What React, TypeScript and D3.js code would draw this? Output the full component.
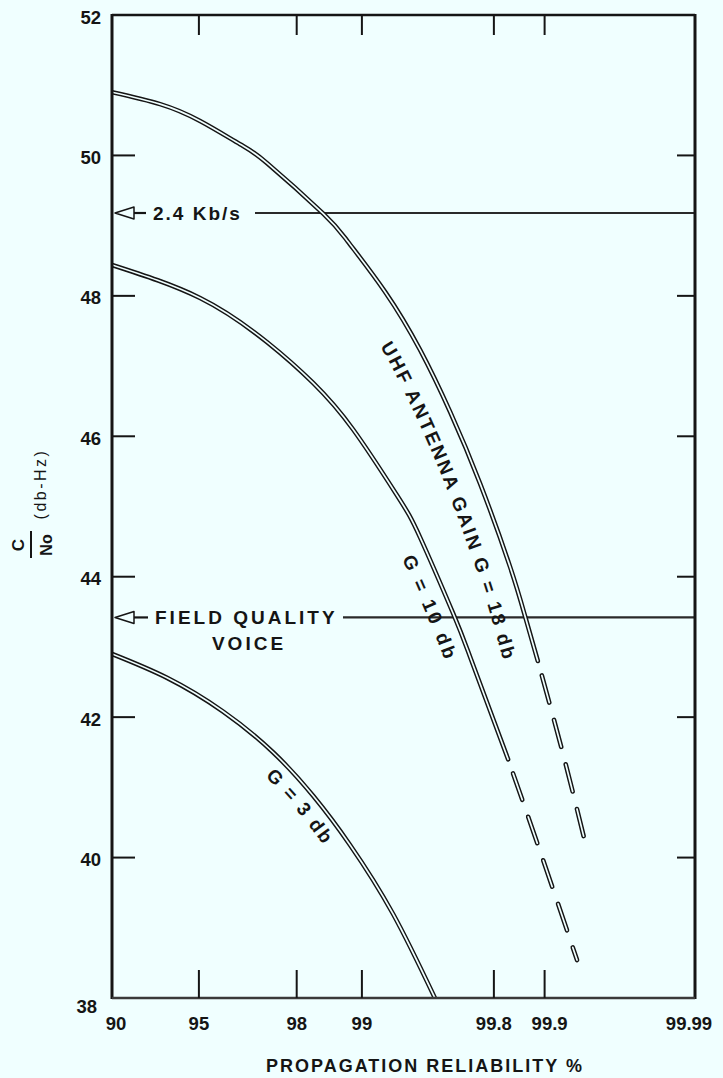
import React from "react";
import * as d3 from "d3";

// ---------- data ----------
const reliabilityTicks = [90, 95, 98, 99, 99.8, 99.9, 99.99];
const reliabilityTickLabels = ["90", "95", "98", "99", "99.8", "99.9", "99.99"];
const cnoTicks = [38, 40, 42, 44, 46, 48, 50, 52];
const cnoTickLabels = ["38", "40", "42", "44", "46", "48", "50", "52"];

// G = 18 db (UHF antenna gain)
const g18Solid: [number, number][] = [
  [90, 50.9], [93.09, 50.73], [95.05, 50.49], [96.54, 50.16], [97.32, 49.89],
  [98.48, 49.17], [98.835, 48.77], [99.23, 48.06], [99.491, 47.23], [99.648, 46.35],
  [99.76, 45.33], [99.839, 44.14], [99.869, 43.43], [99.89, 42.8],
];
const g18Dashed: [number, number][] = [[99.89, 42.8], [99.923, 41.48], [99.9449, 40.17]];

// G = 10 db
const g10Solid: [number, number][] = [
  [90, 48.44], [95.05, 47.97], [97.32, 47.34], [98.31, 46.76], [98.896, 46.1],
  [99.33, 45.16], [99.491, 44.56], [99.661, 43.48], [99.727, 42.86], [99.8346, 41.4],
];
const g10Dashed: [number, number][] = [[99.8346, 41.4], [99.8963, 40.01], [99.9372, 38.54]];

// G = 3 db
const g3Solid: [number, number][] = [
  [90, 42.9], [93.47, 42.56], [95.96, 42.08], [97.47, 41.5], [98.31, 40.88],
  [98.86, 40.18], [99.298, 39.2], [99.575, 38.0],
];

// reference levels
const refLevels = [49.18, 43.42];
const refLabels = ["2.4 Kb/s", "FIELD QUALITY"];
const refSubLabels = ["", "VOICE"];

const curveLabels = ["UHF ANTENNA GAIN G = 18 db", "G = 10 db", "G = 3 db"];
const curveLabelStart = [47.51, 44.41, 41.38]; // C/No value on curve where label starts

// ---------- helpers ----------
function probit(p: number): number {
  const a = [-3.969683028665376e1, 2.209460984245205e2, -2.759285104469687e2, 1.38357751867269e2, -3.066479806614716e1, 2.506628277459239];
  const b = [-5.447609879822406e1, 1.615858368580409e2, -1.556989798598866e2, 6.680131188771972e1, -1.328068155288572e1];
  const c = [-7.784894002430293e-3, -3.223964580411365e-1, -2.400758277161838, -2.549732539343734, 4.374664141464968, 2.938163982698783];
  const d = [7.784695709041462e-3, 3.224671290700398e-1, 2.445134137142996, 3.754408661907416];
  const plow = 0.02425;
  const phigh = 1 - plow;
  let q: number, r: number;
  if (p < plow) {
    q = Math.sqrt(-2 * Math.log(p));
    return (((((c[0] * q + c[1]) * q + c[2]) * q + c[3]) * q + c[4]) * q + c[5]) / ((((d[0] * q + d[1]) * q + d[2]) * q + d[3]) * q + 1);
  }
  if (p <= phigh) {
    q = p - 0.5;
    r = q * q;
    return ((((((a[0] * r + a[1]) * r + a[2]) * r + a[3]) * r + a[4]) * r + a[5]) * q) / (((((b[0] * r + b[1]) * r + b[2]) * r + b[3]) * r + b[4]) * r + 1);
  }
  q = Math.sqrt(-2 * Math.log(1 - p));
  return -(((((c[0] * q + c[1]) * q + c[2]) * q + c[3]) * q + c[4]) * q + c[5]) / ((((d[0] * q + d[1]) * q + d[2]) * q + d[3]) * q + 1);
}

const W = 723, H = 1078;
const L = 112, R = 695, T = 15, B = 998;
const BG = "#F0FFFF";
const INK = "#151515";
const FONT = "'Liberation Sans', Arial, sans-serif";

function offsetPath(points: [number, number][], startY: number, dist: number): string {
  const n = points.length;
  const q = points.map((p, i) => {
    const a = points[Math.max(0, i - 1)];
    const b = points[Math.min(n - 1, i + 1)];
    let tx = b[0] - a[0], ty = b[1] - a[1];
    const len = Math.hypot(tx, ty) || 1;
    tx /= len; ty /= len;
    return [p[0] - ty * dist, p[1] + tx * dist] as [number, number];
  });
  let i = points.findIndex((p) => p[1] >= startY);
  if (i < 1) i = 1;
  const f = (startY - points[i - 1][1]) / (points[i][1] - points[i - 1][1]);
  const s: [number, number] = [
    q[i - 1][0] + f * (q[i][0] - q[i - 1][0]),
    q[i - 1][1] + f * (q[i][1] - q[i - 1][1]),
  ];
  return d3.line().curve(d3.curveNatural)([s, ...q.slice(i)]) || "";
}

export default function App() {
  const xs = d3.scaleLinear().domain([probit(0.9), probit(0.9999)]).range([L, R]);
  const x = (p: number) => xs(probit(p / 100));
  const y = d3.scaleLinear().domain([38, 52]).range([B, T]);

  const line = d3
    .line<[number, number]>()
    .x((d) => x(d[0]))
    .y((d) => y(d[1]))
    .curve(d3.curveNatural);

  const solids = [g18Solid, g10Solid, g3Solid];
  const dashes = [g18Dashed, g10Dashed];
  const labelDist = [33, 25, 22];
  const labelSpacing = [2.3, 3, 2];
  const labelCurves = [
    [...g18Solid, ...g18Dashed.slice(1)],
    [...g10Solid, ...g10Dashed.slice(1)],
    g3Solid,
  ];

  const dashArr = "28 18";
  const dashOff = 31;

  return (
    <svg
      width={W}
      height={H}
      viewBox={`0 0 ${W} ${H}`}
      style={{ position: "absolute", left: 0, top: 0, background: BG, fontFamily: FONT }}
    >
      <rect x={0} y={0} width={W} height={H} fill={BG} />
      <defs>
        <clipPath id="plotClip">
          <rect x={L} y={T} width={R - L} height={B - T} />
        </clipPath>
        {labelCurves.map((c, i) => (
          <path
            key={i}
            id={`lblPath${i}`}
            d={offsetPath(
              c.map((d) => [x(d[0]), y(d[1])] as [number, number]),
              y(curveLabelStart[i]),
              labelDist[i]
            )}
            fill="none"
          />
        ))}
      </defs>

      {/* reference lines with arrows */}
      {refLevels.map((v, i) => {
        const yy = y(v);
        const tip = L + 3;
        const base = L + 22;
        const textX = i === 0 ? 153 : 155;
        const lineStart = i === 0 ? 255 : 343;
        return (
          <g key={i}>
            <path
              d={`M${tip},${yy} L${base},${yy - 6} L${base},${yy + 6} Z`}
              fill={BG}
              stroke={INK}
              strokeWidth={1.5}
              strokeLinejoin="round"
            />
            <line x1={base} x2={textX - 7} y1={yy} y2={yy} stroke={INK} strokeWidth={2.2} />
            <line x1={lineStart} x2={R} y1={yy} y2={yy} stroke="#2a2a2a" strokeWidth={2.2} />
            <text
              x={textX}
              y={yy + 7}
              fontSize={19}
              fontWeight="bold"
              fill={INK}
              letterSpacing={i === 0 ? 2 : 3}
            >
              {refLabels[i]}
            </text>
            {refSubLabels[i] && (
              <text
                x={249}
                y={yy + 33}
                fontSize={19}
                fontWeight="bold"
                fill={INK}
                letterSpacing={3}
                textAnchor="middle"
              >
                {refSubLabels[i]}
              </text>
            )}
          </g>
        );
      })}

      {/* curves: hollow double lines */}
      <g clipPath="url(#plotClip)" fill="none">
        {solids.map((s, i) => (
          <path key={`so${i}`} d={line(s) || ""} stroke={INK} strokeWidth={4.6} strokeLinecap="round" />
        ))}
        {dashes.map((s, i) => (
          <path
            key={`do${i}`}
            d={line(s) || ""}
            stroke={INK}
            strokeWidth={4.6}
            strokeLinecap="round"
            strokeDasharray={dashArr}
            strokeDashoffset={dashOff}
          />
        ))}
        {solids.map((s, i) => (
          <path key={`si${i}`} d={line(s) || ""} stroke={BG} strokeWidth={1.7} strokeLinecap="round" />
        ))}
        {dashes.map((s, i) => (
          <path
            key={`di${i}`}
            d={line(s) || ""}
            stroke={BG}
            strokeWidth={1.7}
            strokeLinecap="round"
            strokeDasharray={dashArr}
            strokeDashoffset={dashOff}
          />
        ))}
      </g>

      {/* curve labels */}
      {curveLabels.map((t, i) => (
        <text key={i} fontSize={19} fontWeight="bold" fill={INK} letterSpacing={labelSpacing[i]}>
          <textPath href={`#lblPath${i}`} startOffset={0}>
            {t}
          </textPath>
        </text>
      ))}

      {/* frame */}
      <line x1={L} x2={L} y1={T - 1} y2={B + 1} stroke={INK} strokeWidth={3} />
      <line x1={R} x2={R} y1={T - 1} y2={B + 1} stroke={INK} strokeWidth={3} />
      <line x1={L} x2={R} y1={T} y2={T} stroke={INK} strokeWidth={2.5} />
      <line x1={L} x2={R} y1={B} y2={B} stroke="#3a3a3a" strokeWidth={2.5} />

      {/* y ticks */}
      {cnoTicks.slice(1, -1).map((v) => (
        <g key={`yt${v}`}>
          <line x1={L} x2={L + 23} y1={y(v)} y2={y(v)} stroke={INK} strokeWidth={2} />
          <line x1={R - 18} x2={R} y1={y(v)} y2={y(v)} stroke={INK} strokeWidth={2} />
        </g>
      ))}
      {cnoTicks.map((v, i) => (
        <text
          key={`yl${v}`}
          x={i === 0 ? 97 : 101}
          y={i === 0 ? y(v) + 15 : y(v) + 8.5}
          fontSize={18.5}
          fontWeight="bold"
          textAnchor="end"
          fill={INK}
        >
          {cnoTickLabels[i]}
        </text>
      ))}

      {/* x ticks */}
      {reliabilityTicks.slice(1, -1).map((p) => (
        <g key={`xt${p}`}>
          <line x1={x(p)} x2={x(p)} y1={T} y2={T + 20} stroke={INK} strokeWidth={2} />
          <line x1={x(p)} x2={x(p)} y1={B - 28} y2={B} stroke={INK} strokeWidth={2} />
        </g>
      ))}
      {reliabilityTicks.map((p, i) => (
        <text
          key={`xl${p}`}
          x={x(p) + (i === 0 ? 4 : i === reliabilityTicks.length - 1 ? -6 : i === 5 ? 5 : 0)}
          y={1030}
          fontSize={18.5}
          fontWeight="bold"
          textAnchor="middle"
          fill={INK}
        >
          {reliabilityTickLabels[i]}
        </text>
      ))}

      {/* axis titles */}
      <text x={425} y={1072} fontSize={18} fontWeight="bold" textAnchor="middle" letterSpacing={2} fill={INK}>
        PROPAGATION RELIABILITY %
      </text>
      <g fill={INK}>
        <text transform="translate(24,545) rotate(-90)" fontSize={17} fontWeight="bold" textAnchor="middle">
          C
        </text>
        <line x1={31} x2={31} y1={531} y2={558} stroke={INK} strokeWidth={2} />
        <text transform="translate(52,545) rotate(-90)" fontSize={16} fontWeight="bold" textAnchor="middle">
          No
        </text>
        <text
          transform="translate(46,484) rotate(-90)"
          fontSize={16}
          textAnchor="middle"
          letterSpacing={2.5}
        >
          (db-Hz)
        </text>
      </g>
    </svg>
  );
}
